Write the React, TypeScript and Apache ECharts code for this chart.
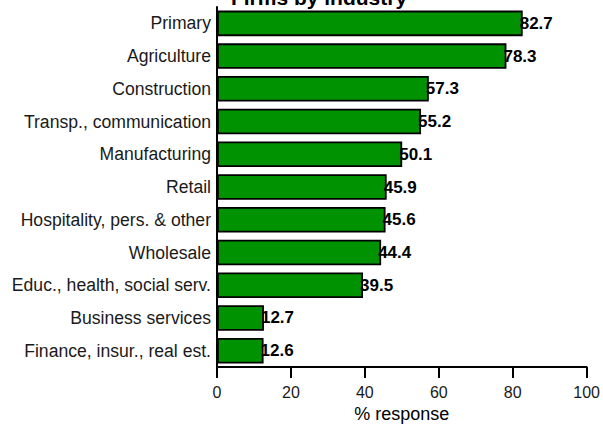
import React, { useEffect, useRef } from "react";
import * as echarts from "echarts";

const categories = [
  "Primary",
  "Agriculture",
  "Construction",
  "Transp., communication",
  "Manufacturing",
  "Retail",
  "Hospitality, pers. & other",
  "Wholesale",
  "Educ., health, social serv.",
  "Business services",
  "Finance, insur., real est.",
];
const values = [82.7, 78.3, 57.3, 55.2, 50.1, 45.9, 45.6, 44.4, 39.5, 12.7, 12.6];
const titleText = "Firms by industry";
const xAxisName = "% response";

const FONT = "'Liberation Sans', Arial, Helvetica, sans-serif";

export default function App() {
  const ref = useRef<HTMLDivElement>(null);
  useEffect(() => {
    if (!ref.current) return;
    const chart = echarts.init(ref.current, null, { renderer: "svg" });
    chart.setOption({
      animation: false,
      backgroundColor: "#ffffff",
      graphic: [
        {
          type: "text",
          x: 319,
          y: -3,
          z: 10,
          style: {
            text: titleText,
            font: `bold 21px ${FONT}`,
            fill: "#000",
            align: "center",
            verticalAlign: "middle",
          },
        },
      ],
      grid: { left: 217, right: 16, top: 7, bottom: 56, containLabel: false },
      xAxis: {
        type: "value",
        min: 0,
        max: 100,
        interval: 20,
        name: xAxisName,
        nameLocation: "middle",
        nameGap: 37,
        nameTextStyle: { fontFamily: FONT, fontSize: 18, color: "#000" },
        axisLine: { show: true, lineStyle: { color: "#000", width: 2 } },
        axisTick: { show: true, length: 11, lineStyle: { color: "#000", width: 2 } },
        axisLabel: { fontFamily: FONT, fontSize: 16, color: "#1a1a1a", margin: 17 },
        splitLine: { show: false },
      },
      yAxis: {
        type: "category",
        data: categories,
        inverse: true,
        axisLine: { show: true, lineStyle: { color: "#000", width: 2 } },
        axisTick: { show: false },
        axisLabel: { fontFamily: FONT, fontSize: 17.6, color: "#1a1a1a", margin: 6 },
      },
      series: [
        {
          type: "bar",
          data: values,
          barCategoryGap: "22%",
          itemStyle: { color: "#009200", borderColor: "#000", borderWidth: 1.8 },
          label: {
            show: true,
            position: "right",
            distance: -3,
            fontFamily: FONT,
            fontSize: 17,
            fontWeight: "bold",
            color: "#000",
            formatter: (p: any) => p.value.toFixed(1),
          },
        },
      ],
    });
    return () => chart.dispose();
  }, []);
  return (
    <div
      ref={ref}
      style={{ position: "absolute", left: 0, top: 0, width: 603, height: 428 }}
    />
  );
}
